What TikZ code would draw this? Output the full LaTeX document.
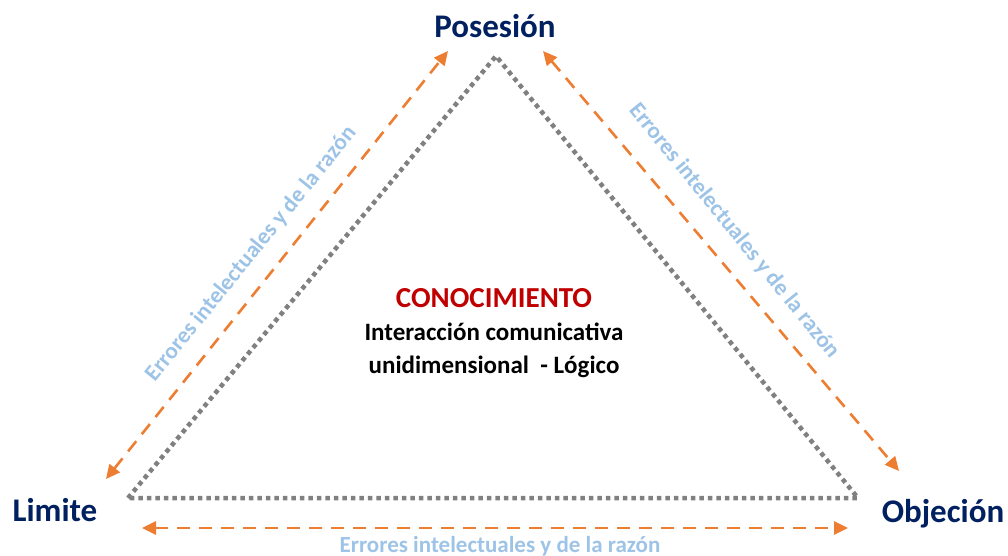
\documentclass[tikz,border=0pt]{standalone}
\usepackage{fontspec}
\setmainfont{Carlito}
\usetikzlibrary{arrows.meta}
\definecolor{navytxt}{HTML}{002060}
\definecolor{redtxt}{HTML}{C00000}
\definecolor{orangearr}{HTML}{ED7D31}
\definecolor{bluetxt}{HTML}{9DC3E6}
\definecolor{dotgray}{HTML}{808080}
\begin{document}
\begin{tikzpicture}[x=1pt,y=-1pt,
  corner/.style={font=\bfseries\fontsize{33}{38}\selectfont,text=navytxt},
  errlabel/.style={font=\bfseries\fontsize{23}{27}\selectfont,text=bluetxt},
  sideline/.style={draw=dotgray,line width=4.5pt,dash pattern=on 4.5pt off 4pt},
  errarrow/.style={draw=orangearr,line width=2.6pt,dash pattern=on 13pt off 9pt,
    {Triangle[length=14pt,width=13pt]}-{Triangle[length=14pt,width=13pt]}}]
  \useasboundingbox (0,0) rectangle (1008,556);
  % corners of the triangle
  \coordinate (T) at (496,56);
  \coordinate (L) at (128,498);
  \coordinate (R) at (858,498);
  % dotted triangle
  \draw[sideline] (L)--(T)--(R)--cycle;
  % arrow end points
  \coordinate (LA1) at (106,479);
  \coordinate (LA2) at (448,51);
  \coordinate (RA1) at (543,51);
  \coordinate (RA2) at (899,471);
  \coordinate (BA1) at (142,528);
  \coordinate (BA2) at (848,528);
  % dashed arrows
  \draw[errarrow] (LA1)--(LA2);
  \draw[errarrow] (RA1)--(RA2);
  \draw[errarrow] (BA1)--(BA2);
  % corner labels
  \node[corner] (posesion) at (495,26) {Posesión};
  \node[corner] (limite) at (55,510) {Limite};
  \node[corner] (objecion) at (943,514) {Objeción};
  % side labels
  \node[errlabel,rotate=51] (errleft) at (251,254) {Errores intelectuales y de la razón};
  \node[errlabel,rotate=-51] (errright) at (734,231) {Errores intelectuales y de la razón};
  \node[errlabel] (errbottom) at (500,546) {Errores intelectuales y de la razón};
  % centre text
  \node[font=\bfseries\fontsize{25}{33}\selectfont,align=center] (centre) at (494,333)
    {\textcolor{redtxt}{\fontsize{29}{33}\selectfont CONOCIMIENTO}\\Interacción comunicativa\\unidimensional\ \ - Lógico};
\end{tikzpicture}
\end{document}
